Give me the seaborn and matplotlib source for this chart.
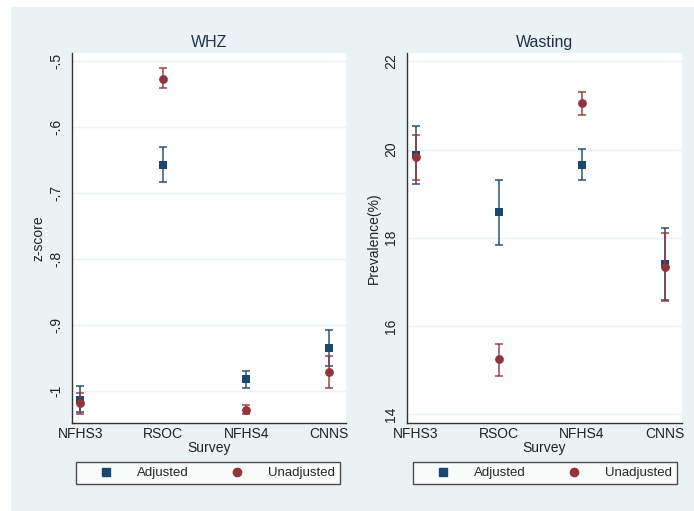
import numpy as np
import pandas as pd
import matplotlib
matplotlib.use('Agg')
import matplotlib.pyplot as plt
from matplotlib.lines import Line2D
from matplotlib.patches import Rectangle
import seaborn as sns

# --- DATA ---
surveys = ['NFHS3', 'RSOC', 'NFHS4', 'CNNS']

whz_adj = [-1.013, -0.657, -0.982, -0.934]
whz_adj_lo = [-1.032, -0.684, -0.995, -0.962]
whz_adj_hi = [-0.992, -0.630, -0.970, -0.907]
whz_unadj = [-1.017, -0.527, -1.028, -0.971]
whz_unadj_lo = [-1.035, -0.541, -1.034, -0.995]
whz_unadj_hi = [-1.002, -0.510, -1.020, -0.946]

wast_adj = [19.87, 18.59, 19.66, 17.40]
wast_adj_lo = [19.21, 17.83, 19.30, 16.60]
wast_adj_hi = [20.53, 19.31, 20.02, 18.23]
wast_unadj = [19.83, 15.24, 21.05, 17.34]
wast_unadj_lo = [19.30, 14.86, 20.79, 16.56]
wast_unadj_hi = [20.33, 15.60, 21.30, 18.11]

whz_ticks = [-0.5, -0.6, -0.7, -0.8, -0.9, -1.0]
whz_ticklabels = ['-.5', '-.6', '-.7', '-.8', '-.9', '-1']
wast_ticks = [14, 16, 18, 20, 22]
wast_ticklabels = ['14', '16', '18', '20', '22']

# --- long format table ---
rows = []
for panel, groups in [('WHZ', [('Adjusted', whz_adj, whz_adj_lo, whz_adj_hi),
                               ('Unadjusted', whz_unadj, whz_unadj_lo, whz_unadj_hi)]),
                      ('Wasting', [('Adjusted', wast_adj, wast_adj_lo, wast_adj_hi),
                                   ('Unadjusted', wast_unadj, wast_unadj_lo, wast_unadj_hi)])]:
    for grp, est, lo, hi in groups:
        for s, e, l, h in zip(surveys, est, lo, hi):
            rows.append({'panel': panel, 'group': grp, 'survey': s,
                         'est': e, 'lo': l, 'hi': h})
df = pd.DataFrame(rows)

# --- STYLE ---
sns.set_style('white')
plt.rcParams['font.family'] = ['Liberation Sans', 'DejaVu Sans']

navy = '#1a476f'
maroon = '#90353b'
bg = '#eaf2f3'
styles = {'Adjusted': (navy, 's'), 'Unadjusted': (maroon, 'o')}

fig = plt.figure(figsize=(6.94, 5.11), dpi=100, facecolor='white')
fig.patches.append(Rectangle((11 / 694, 0), 1, 1 - 7 / 511, transform=fig.transFigure,
                             facecolor=bg, edgecolor='none', zorder=-10))

ax1 = fig.add_axes([0.1037, 0.1722, 0.3944, 0.7241])
ax2 = fig.add_axes([0.5869, 0.1722, 0.3954, 0.7241])

panels = [
    (ax1, 'WHZ', 'z-score', (-1.048, -0.488), whz_ticks, whz_ticklabels, 0.1095, -0.095),
    (ax2, 'Wasting', 'Prevalence(%)', (13.8, 22.19), wast_ticks, wast_ticklabels, 0.5951, -0.095),
]

for ax, name, ylab, ylim, ticks, ticklabels, leg_x, ylab_x in panels:
    sub = df[df['panel'] == name]
    z = 2
    for grp in ['Adjusted', 'Unadjusted']:
        color, marker = styles[grp]
        d = sub[sub['group'] == grp]
        ax.errorbar(d['survey'], d['est'],
                    yerr=[d['est'] - d['lo'], d['hi'] - d['est']],
                    fmt='none', ecolor=color, elinewidth=1.2, capsize=3,
                    capthick=1.2, alpha=0.85, zorder=z)
        sns.scatterplot(data=d, x='survey', y='est', color=color, marker=marker,
                        s=40, edgecolor=color, linewidth=0, ax=ax, zorder=z + 1)
        z += 2

    ax.set_facecolor('white')
    ax.set_xlim(-0.1, 3.2)
    ax.set_ylim(*ylim)
    ax.set_yticks(ticks)
    ax.set_yticklabels(ticklabels, rotation=90, va='center')
    ax.yaxis.grid(True, color=bg, linewidth=1.0)
    ax.set_axisbelow(True)
    for sp in ['top', 'right']:
        ax.spines[sp].set_visible(False)
    for sp in ['left', 'bottom']:
        ax.spines[sp].set_color('#333333')
        ax.spines[sp].set_linewidth(1.0)
    ax.tick_params(axis='y', length=3.5, width=0.8, pad=3, labelsize=10, colors='#222222')
    ax.tick_params(axis='x', length=0, pad=3, labelsize=10, colors='#222222')
    ax.set_title(name, fontsize=11.5, color='#1e3350', pad=4)
    ax.set_xlabel('Survey', fontsize=10, color='#222222', labelpad=0)
    ax.set_ylabel(ylab, fontsize=10, color='#222222')
    ax.yaxis.set_label_coords(ylab_x, 0.5)

    handles = [Line2D([], [], linestyle='none', marker='s', color=navy, markersize=6),
               Line2D([], [], linestyle='none', marker='o', color=maroon, markersize=6)]
    leg = ax.legend(handles, ['Adjusted', 'Unadjusted'], ncol=2, mode='expand',
                    bbox_to_anchor=(leg_x, 0.0509, 0.3804, 0.0469),
                    bbox_transform=fig.transFigure, loc='center',
                    fontsize=9.5, frameon=True, fancybox=False, borderaxespad=0,
                    handlelength=3.8, handletextpad=0.5, columnspacing=2.0,
                    borderpad=0.35)
    leg.get_frame().set_edgecolor('#222222')
    leg.get_frame().set_linewidth(1.0)
    leg.get_frame().set_facecolor('white')

fig.savefig('out.png', dpi=100, facecolor=fig.get_facecolor())
